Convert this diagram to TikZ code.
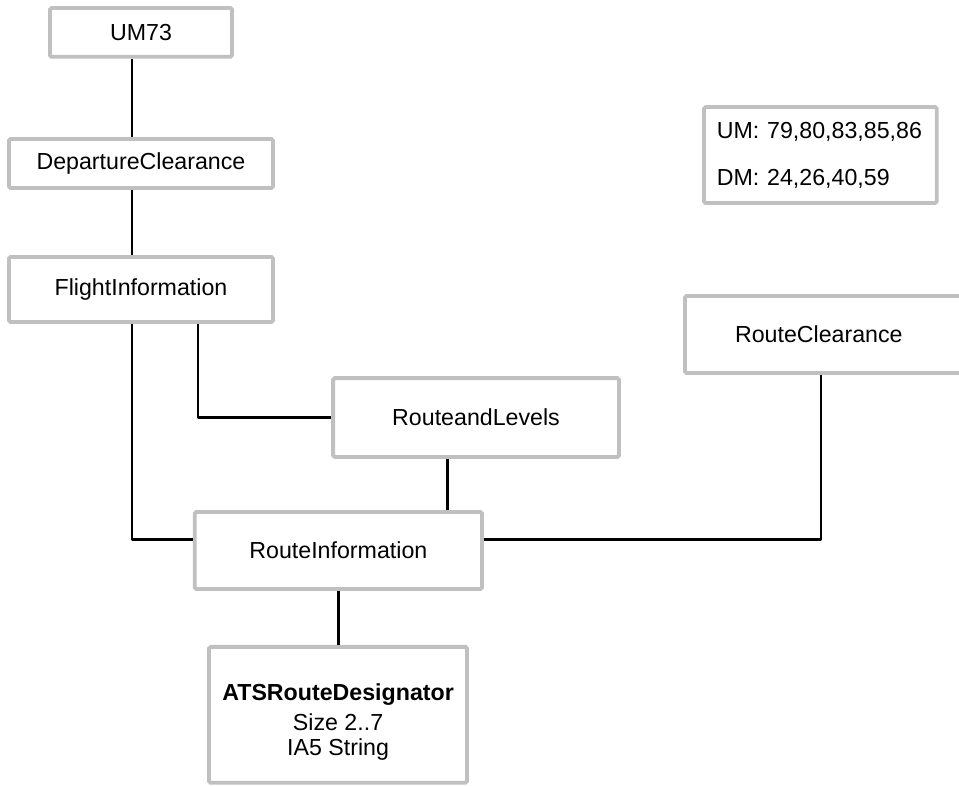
\documentclass[tikz,border=0pt]{standalone}
\usepackage{fontspec}
\setmainfont{Liberation Sans}
\usepackage{tikz}
\definecolor{cframe}{HTML}{C0C0C0}

\begin{document}
\begin{tikzpicture}[
  box/.style={draw=cframe,line width=3.6pt,rounded corners=1.5pt,fill=white,
    align=center,inner sep=2pt},
  link/.style={draw,line width=2.8pt,line join=round},
  font=\fontsize{22pt}{23.4pt}\selectfont]
  \useasboundingbox (0,0) rectangle (31.97,-26.17);

  \node[box,minimum width=6.07cm,minimum height=1.63cm] (um73) at (4.70,-1.08) {UM73};
  \node[box,minimum width=8.8cm,minimum height=1.63cm] (dep) at (4.70,-5.45) {DepartureClearance};
  \node[box,minimum width=8.8cm,minimum height=2.17cm] (fi) at (4.70,-9.65) {FlightInformation};
  \node[box,minimum width=9.53cm,minimum height=2.63cm] (rl) at (15.87,-13.92) {RouteandLevels};
  \node[box,minimum width=9.57cm,minimum height=2.57cm] (ri) at (11.28,-18.35) {RouteInformation};
  \node[box,anchor=west,minimum height=2.57cm,text width=6.7cm,align=left,
    inner xsep=1.67cm] (rc) at (22.77,-11.15) {RouteClearance};
  \node[box,minimum width=8.6cm,minimum height=4.53cm] (ats) at (11.27,-23.83)
    {\rule{0pt}{30pt}\textbf{ATSRouteDesignator}\\[5pt]Size 2..7\\IA5 String};
  \node[box,text width=6.9cm,align=left,inner xsep=0.43cm,minimum height=3.2cm]
    (msgs) at (27.35,-5.17) {UM: 79,80,83,85,86\\[21pt]DM: 24,26,40,59};

  % trunk on the left and the joins into RouteInformation
  \coordinate (spine) at (4.40,0);
  \coordinate (riline) at (0,-18.0);
  \coordinate (rlfeed) at (6.60,0);
  \coordinate (rldrop) at (14.93,0);
  \coordinate (rcdrop) at (27.37,0);

  \draw[link] (um73.south -| spine) -- (dep.north -| spine);
  \draw[link] (dep.south -| spine) -- (fi.north -| spine);
  \draw[link] (fi.south -| rlfeed) |- (rl.west);
  \draw[link] (fi.south -| spine) |- (ri.west |- riline);
  \draw[link] (rl.south -| rldrop) -- (ri.north -| rldrop);
  \draw[link] (ri.east |- riline) -| (rc.south -| rcdrop);
  \draw[link] (ri.south) -- (ri.south |- ats.north);
\end{tikzpicture}
\end{document}
